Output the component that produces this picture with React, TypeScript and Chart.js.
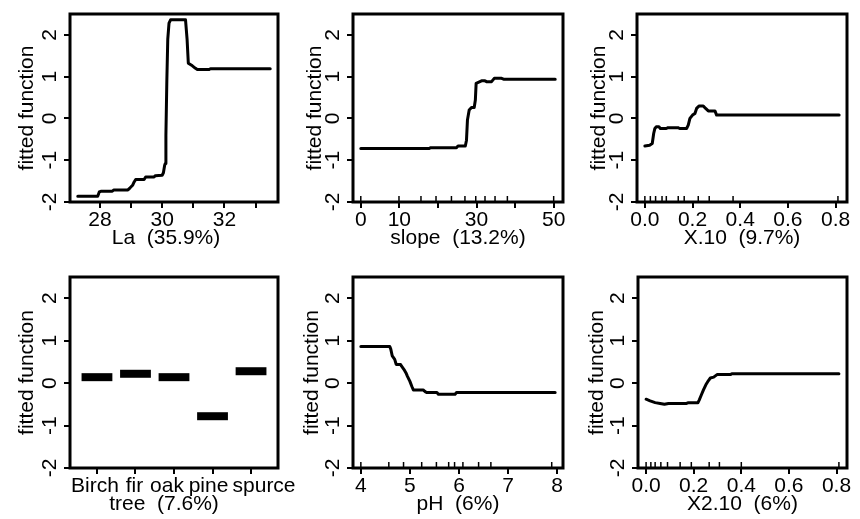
import React, { useEffect, useRef } from 'react';
import { Chart, registerables } from 'chart.js';
Chart.register(...registerables);

const FONT = '"Liberation Sans", Arial, Helvetica, sans-serif';
const FONT_SIZE = 21;

// ---- shared y axis ----
const yTickValues = [-2, -1, 0, 1, 2];
const yAxisTitle = 'fitted function';

// ---- La ----
const laX = [27.29, 27.93, 27.98, 28.05, 28.4, 28.45, 28.9, 28.97, 29.05, 29.1, 29.15, 29.42, 29.47, 29.74, 29.78, 30.0, 30.04, 30.08, 30.1, 30.12, 30.15, 30.18, 30.22, 30.27, 30.75, 30.8, 30.84, 30.97, 31.07, 31.13, 31.5, 31.55, 33.47];
const laY = [-1.86, -1.86, -1.76, -1.74, -1.74, -1.71, -1.71, -1.66, -1.6, -1.52, -1.46, -1.46, -1.4, -1.4, -1.37, -1.36, -1.3, -1.12, -1.08, -0.4, 0.9, 1.9, 2.28, 2.36, 2.36, 1.9, 1.32, 1.26, 1.2, 1.17, 1.17, 1.19, 1.19];
const laTicks = [28, 29, 30, 31, 32, 33];
const laTickLabels = ['28', '', '30', '', '32', ''];
const laRug: number[] = [];

// ---- slope ----
const slopeX = [0, 17.8, 18.0, 24.8, 25.2, 27.1, 27.4, 27.65, 28.1, 28.7, 29.4, 29.7, 29.9, 31.3, 32.2, 32.6, 33.9, 34.6, 36.5, 37.0, 50.4];
const slopeY = [-0.72, -0.72, -0.7, -0.7, -0.66, -0.66, -0.52, -0.04, 0.2, 0.26, 0.26, 0.44, 0.84, 0.9, 0.9, 0.88, 0.88, 0.96, 0.96, 0.94, 0.94];
const slopeTicks = [0, 10, 20, 30, 40, 50];
const slopeTickLabels = ['0', '10', '', '30', '', '50'];
const slopeRug = [0, 9.9, 15.6, 19.5, 23.5, 27, 29.8, 32.2, 34.8, 38, 50];

// ---- X.10 ----
const x10X = [0.0, 0.02, 0.031, 0.037, 0.042, 0.048, 0.059, 0.065, 0.09, 0.097, 0.139, 0.146, 0.175, 0.182, 0.189, 0.2, 0.21, 0.217, 0.228, 0.245, 0.255, 0.266, 0.294, 0.301, 0.815];
const x10Y = [-0.66, -0.64, -0.6, -0.36, -0.24, -0.2, -0.2, -0.24, -0.24, -0.22, -0.22, -0.24, -0.24, -0.16, 0.0, 0.08, 0.12, 0.24, 0.3, 0.3, 0.24, 0.18, 0.18, 0.08, 0.08];
const x10Ticks = [0, 0.2, 0.4, 0.6, 0.8];
const x10TickLabels = ['0.0', '0.2', '0.4', '0.6', '0.8'];
const x10Rug = [0, 0.023, 0.045, 0.072, 0.09, 0.14, 0.165, 0.224, 0.27, 0.37, 0.81];

// ---- tree (factor) ----
const treeCategories = ['Birch', 'fir', 'oak', 'pine', 'spurce'];
const treeValues = [0.14, 0.22, 0.14, -0.78, 0.28];
const treeTicks = [1, 2, 3, 4, 5];

// ---- pH ----
const phX = [4.0, 4.59, 4.61, 4.64, 4.69, 4.72, 4.81, 4.83, 4.88, 4.92, 4.95, 5.0, 5.04, 5.07, 5.27, 5.31, 5.34, 5.55, 5.58, 5.92, 5.95, 7.96];
const phY = [0.86, 0.86, 0.8, 0.64, 0.56, 0.44, 0.44, 0.4, 0.32, 0.24, 0.16, 0.04, -0.08, -0.16, -0.16, -0.2, -0.22, -0.22, -0.26, -0.26, -0.22, -0.22];
const phTicks = [4, 5, 6, 7, 8];
const phTickLabels = ['4', '5', '6', '7', '8'];
const phRug = [4.0, 4.57, 4.87, 5.24, 5.54, 5.79, 5.91, 6.08, 6.4, 6.65, 7.89];

// ---- X2.10 ----
const x210X = [0.0, 0.017, 0.038, 0.059, 0.077, 0.094, 0.17, 0.178, 0.218, 0.223, 0.232, 0.241, 0.251, 0.262, 0.27, 0.284, 0.298, 0.354, 0.36, 0.81];
const x210Y = [-0.38, -0.42, -0.46, -0.48, -0.5, -0.48, -0.48, -0.46, -0.46, -0.4, -0.28, -0.16, -0.04, 0.06, 0.12, 0.14, 0.2, 0.2, 0.22, 0.22];
const x210Ticks = [0, 0.2, 0.4, 0.6, 0.8];
const x210TickLabels = ['0.0', '0.2', '0.4', '0.6', '0.8'];
const x210Rug = [0, 0.02, 0.038, 0.062, 0.09, 0.143, 0.19, 0.265, 0.308, 0.4, 0.81];

type Frame = { cx: number; cy: number; cw: number; ch: number; l: number; r: number; t: number; b: number; titleShift: number; yTitleGap: number };
type PanelDef = {
  xTitle: string;
  lines: { x: number[]; y: number[] }[];
  lineWidth: number;
  cap: 'butt' | 'round';
  xMin: number;
  xMax: number;
  ticks: number[];
  tickLabels: string[];
  labelShift?: number[]; // px nudges for hand-placed factor labels
  rug: number[];
  frame: Frame;
};

const BAR_HALF = 0.4;
const treeLines = treeValues.map((v, i) => ({ x: [treeTicks[i] - BAR_HALF, treeTicks[i] + BAR_HALF], y: [v, v] }));

const panels: PanelDef[] = [
  { xTitle: 'La  (35.9%)', lines: [{ x: laX, y: laY }], lineWidth: 3, cap: 'round', xMin: 27.04, xMax: 33.72, ticks: laTicks, tickLabels: laTickLabels, rug: laRug,
    frame: { cx: 0, cy: 0, cw: 300, ch: 260, l: 70, r: 278, t: 14, b: 202, titleShift: -8, yTitleGap: 43 } },
  { xTitle: 'slope  (13.2%)', lines: [{ x: slopeX, y: slopeY }], lineWidth: 3, cap: 'round', xMin: -2.02, xMax: 52.42, ticks: slopeTicks, tickLabels: slopeTickLabels, rug: slopeRug,
    frame: { cx: 285, cy: 0, cw: 285, ch: 260, l: 353, r: 563, t: 14, b: 202, titleShift: 0, yTitleGap: 38 } },
  { xTitle: 'X.10  (9.7%)', lines: [{ x: x10X, y: x10Y }], lineWidth: 3, cap: 'round', xMin: -0.033, xMax: 0.848, ticks: x10Ticks, tickLabels: x10TickLabels, rug: x10Rug,
    frame: { cx: 570, cy: 0, cw: 290, ch: 260, l: 637, r: 847, t: 14, b: 202, titleShift: 0, yTitleGap: 38 } },
  { xTitle: 'tree  (7.6%)', lines: treeLines, lineWidth: 8, cap: 'butt', xMin: 0.3, xMax: 5.7, ticks: treeTicks, tickLabels: treeCategories, labelShift: [-2, -1, -7, -4, 13], rug: [],
    frame: { cx: 0, cy: 260, cw: 300, ch: 259, l: 70, r: 278, t: 277, b: 468, titleShift: -10, yTitleGap: 43 } },
  { xTitle: 'pH  (6%)', lines: [{ x: phX, y: phY }], lineWidth: 3, cap: 'round', xMin: 3.84, xMax: 8.12, ticks: phTicks, tickLabels: phTickLabels, rug: phRug,
    frame: { cx: 285, cy: 260, cw: 285, ch: 259, l: 353, r: 563, t: 277, b: 468, titleShift: 0, yTitleGap: 41 } },
  { xTitle: 'X2.10  (6%)', lines: [{ x: x210X, y: x210Y }], lineWidth: 3, cap: 'round', xMin: -0.034, xMax: 0.844, ticks: x210Ticks, tickLabels: x210TickLabels, rug: x210Rug,
    frame: { cx: 570, cy: 260, cw: 290, ch: 259, l: 638, r: 847, t: 277, b: 468, titleShift: 0, yTitleGap: 41 } },
];

const TICK_LEN = 6;

function PanelChart({ p }: { p: PanelDef }) {
  const ref = useRef<HTMLCanvasElement>(null);
  useEffect(() => {
    const canvas = ref.current;
    if (!canvas) return;
    const f = p.frame;
    const padTop = f.t - f.cy;
    const padRight = f.cx + f.cw - f.r;
    const yWidth = f.l - f.cx;
    const xHeight = f.cy + f.ch - f.b;
    const manualLabels = !!p.labelShift;

    const rPlugin = {
      id: 'rstyle',
      afterDraw(chart: any) {
        const ctx = chart.ctx as CanvasRenderingContext2D;
        const a = chart.chartArea;
        const xs = chart.scales.x;
        const ys = chart.scales.y;
        ctx.save();
        ctx.strokeStyle = '#000';
        ctx.lineWidth = 1.5;
        for (const v of p.rug) {
          const px = xs.getPixelForValue(v);
          ctx.beginPath();
          ctx.moveTo(px, a.bottom);
          ctx.lineTo(px, a.bottom - 6);
          ctx.stroke();
        }
        ctx.lineWidth = 3;
        ctx.strokeRect(a.left, a.top, a.right - a.left, a.bottom - a.top);
        ctx.fillStyle = '#000';
        ctx.font = `${FONT_SIZE}px ${FONT}`;
        ctx.textAlign = 'center';
        ctx.textBaseline = 'middle';
        for (const v of yTickValues) {
          const py = ys.getPixelForValue(v);
          ctx.save();
          ctx.translate(a.left - 20, py);
          ctx.rotate(-Math.PI / 2);
          ctx.fillText(String(v), 0, 0);
          ctx.restore();
        }
        if (manualLabels) {
          p.ticks.forEach((v, i) => {
            const px = xs.getPixelForValue(v) + (p.labelShift as number[])[i];
            ctx.fillText(p.tickLabels[i], px, a.bottom + TICK_LEN + FONT_SIZE * 0.6);
          });
        }
        ctx.save();
        ctx.translate(a.left - f.yTitleGap, (a.top + a.bottom) / 2);
        ctx.rotate(-Math.PI / 2);
        ctx.fillText(yAxisTitle, 0, 0);
        ctx.restore();
        ctx.fillText(p.xTitle, (a.left + a.right) / 2 + f.titleShift, a.bottom + 36);
        ctx.restore();
      },
    };

    const chart = new Chart(canvas, {
      type: 'line',
      data: {
        datasets: p.lines.map((ln) => ({
          data: ln.x.map((x, i) => ({ x, y: ln.y[i] })),
          borderColor: '#000',
          borderWidth: p.lineWidth,
          borderCapStyle: p.cap,
          borderJoinStyle: 'round',
          pointRadius: 0,
          tension: 0,
          fill: false,
        })),
      },
      options: {
        responsive: false,
        animation: false,
        devicePixelRatio: 1,
        events: [],
        layout: { padding: { top: padTop, right: padRight, left: 0, bottom: 0 } },
        plugins: { legend: { display: false }, tooltip: { enabled: false } },
        scales: {
          x: {
            type: 'linear',
            min: p.xMin,
            max: p.xMax,
            afterBuildTicks: (scale: any) => {
              scale.ticks = p.ticks.map((v) => ({ value: v }));
            },
            afterFit: (scale: any) => {
              scale.height = xHeight;
              scale.paddingLeft = 0;
              scale.paddingRight = 0;
            },
            grid: { display: true, drawOnChartArea: false, drawTicks: true, tickLength: TICK_LEN, lineWidth: 2, color: '#000' },
            border: { display: false },
            ticks: {
              display: !manualLabels,
              autoSkip: false,
              maxRotation: 0,
              minRotation: 0,
              padding: 0,
              color: '#000',
              font: { size: FONT_SIZE, family: FONT },
              callback: (_v: any, i: number) => p.tickLabels[i],
            },
          },
          y: {
            type: 'linear',
            min: -2,
            max: 2.5,
            afterBuildTicks: (scale: any) => {
              scale.ticks = yTickValues.map((v) => ({ value: v }));
            },
            afterFit: (scale: any) => {
              scale.width = yWidth;
              scale.paddingTop = 0;
              scale.paddingBottom = 0;
            },
            grid: { display: true, drawOnChartArea: false, drawTicks: true, tickLength: TICK_LEN, lineWidth: 2, color: '#000' },
            border: { display: false },
            ticks: { display: false },
          },
        },
      } as any,
      plugins: [rPlugin],
    });
    return () => chart.destroy();
  }, [p]);
  const f = p.frame;
  return (
    <canvas
      ref={ref}
      width={f.cw}
      height={f.ch}
      style={{ position: 'absolute', left: f.cx, top: f.cy, width: f.cw, height: f.ch }}
    />
  );
}

export default function App() {
  return (
    <div style={{ position: 'absolute', left: 0, top: 0, width: 860, height: 519, background: '#fff', overflow: 'hidden' }}>
      {panels.map((p, i) => (
        <PanelChart key={i} p={p} />
      ))}
    </div>
  );
}
